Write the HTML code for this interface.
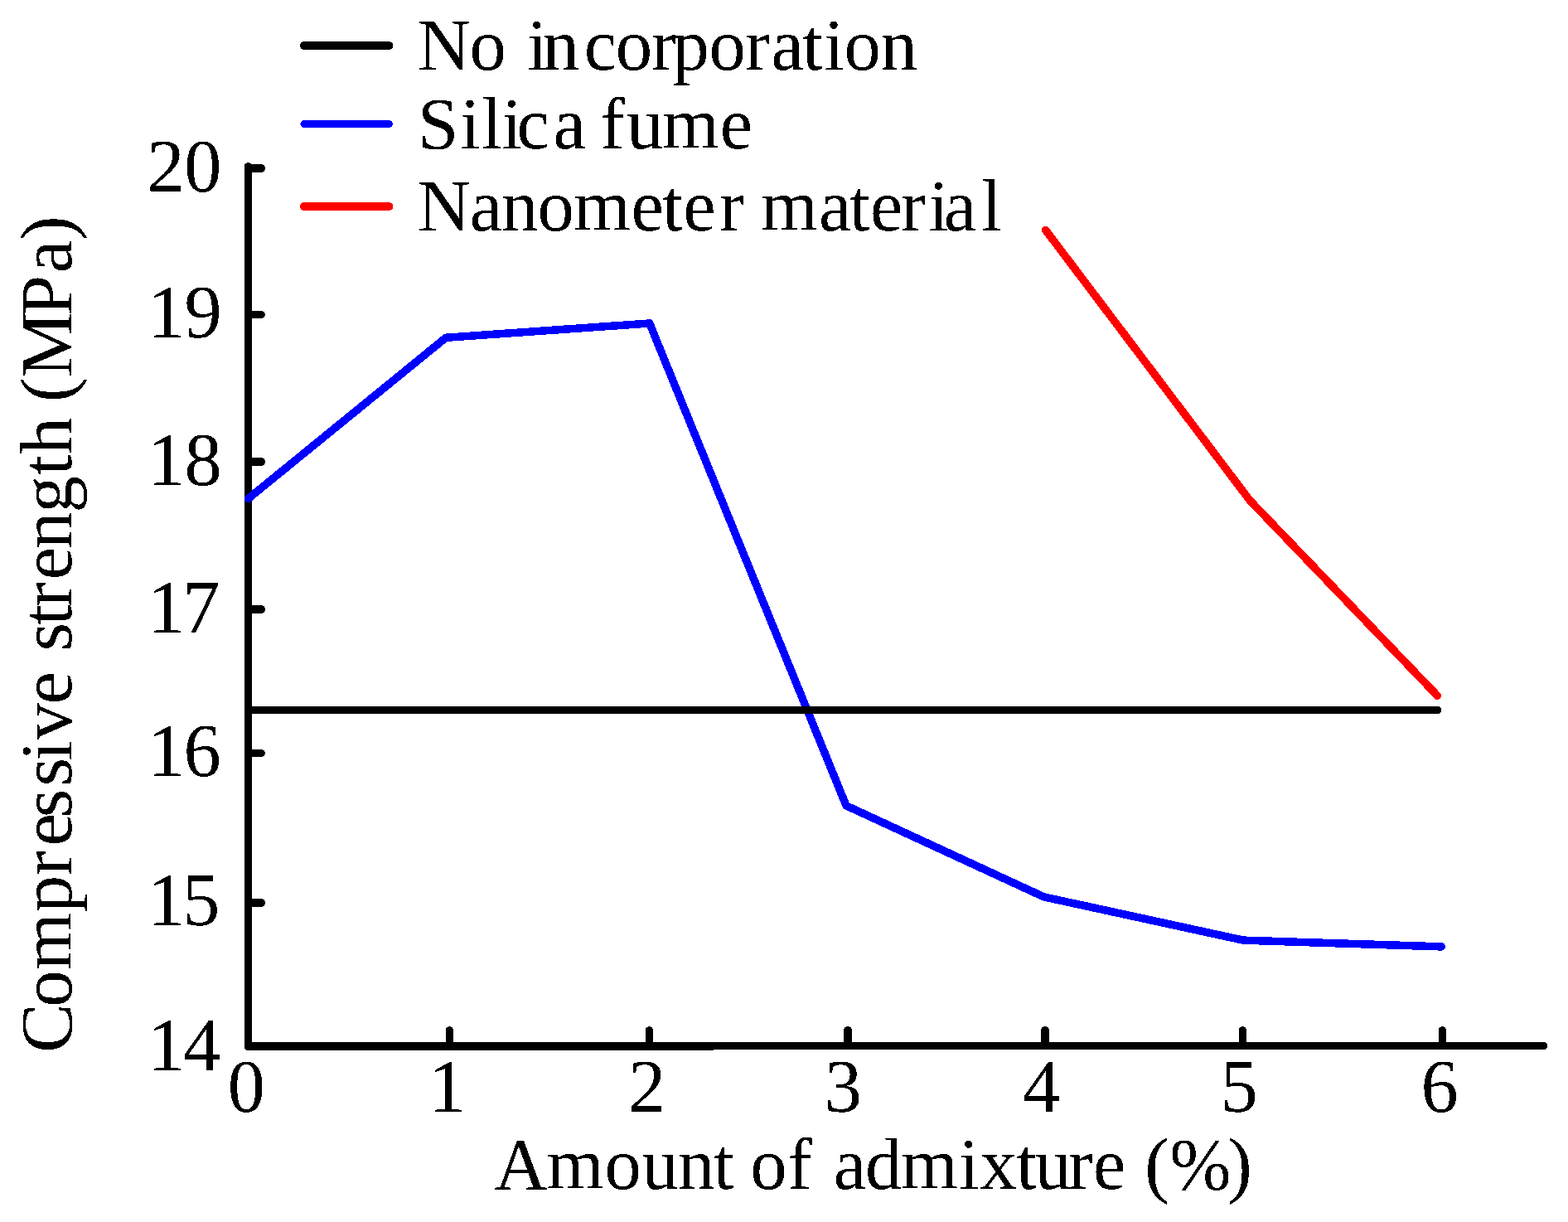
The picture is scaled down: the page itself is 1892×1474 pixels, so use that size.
<!DOCTYPE html>
<html lang="en">
<head>
<meta charset="utf-8">
<title>Compressive strength vs. amount of admixture</title>
<style>
html,body{margin:0;padding:0;background:#fff;}
body{width:1892px;height:1474px;overflow:hidden;}
svg{display:block;}
text{font-family:"Liberation Serif","DejaVu Serif",serif;font-size:88.8px;fill:#000;white-space:pre;}
text.tk{font-size:90.4px;}
</style>
</head>
<body>
<svg width="1892" height="1474" viewBox="0 0 1892 1474">
<defs>
<filter id="crisp" x="0" y="0" width="100%" height="100%" filterUnits="userSpaceOnUse" primitiveUnits="userSpaceOnUse" color-interpolation-filters="sRGB">
<feComponentTransfer><feFuncA type="discrete" tableValues="0 1"/></feComponentTransfer>
</filter>
</defs>
<rect width="1892" height="1474" fill="#fff"/>

<g fill="none" stroke-linecap="round" stroke-linejoin="round" shape-rendering="crispEdges">
<!-- axes -->
<line x1="299.5" y1="200.5" x2="299.5" y2="1262" stroke="#000" stroke-width="9"/>
<line x1="299.5" y1="1262" x2="859" y2="1262" stroke="#000" stroke-width="10"/>
<line x1="859" y1="1261.5" x2="1862.9" y2="1261.5" stroke="#000" stroke-width="9"/>
<!-- y ticks -->
<line x1="302" y1="203" x2="315.0" y2="203" stroke="#000" stroke-width="10"/>
<line x1="302" y1="379.5" x2="315.5" y2="379.5" stroke="#000" stroke-width="9"/>
<line x1="302" y1="557" x2="315.0" y2="557" stroke="#000" stroke-width="10"/>
<line x1="302" y1="735" x2="315.0" y2="735" stroke="#000" stroke-width="10"/>
<line x1="302" y1="908.5" x2="315.5" y2="908.5" stroke="#000" stroke-width="9"/>
<line x1="302" y1="1089" x2="315.0" y2="1089" stroke="#000" stroke-width="10"/>
<!-- x ticks -->
<line x1="542.5" y1="1259" x2="542.5" y2="1242.5" stroke="#000" stroke-width="9"/>
<line x1="783.5" y1="1259" x2="783.5" y2="1242.5" stroke="#000" stroke-width="9"/>
<line x1="1023" y1="1259" x2="1023" y2="1243.0" stroke="#000" stroke-width="10"/>
<line x1="1261" y1="1259" x2="1261" y2="1243.0" stroke="#000" stroke-width="10"/>
<line x1="1499.5" y1="1259" x2="1499.5" y2="1242.5" stroke="#000" stroke-width="9"/>
<line x1="1740.5" y1="1259" x2="1740.5" y2="1242.5" stroke="#000" stroke-width="9"/>
<!-- series -->
<polyline points="299.5,601.5 538,407.3 783.8,390 1021,971.8 1259.7,1081.9 1500.2,1134.15 1739.3,1141.9" stroke="#00f" stroke-width="9.5"/>
<polyline points="1261.7,277.6 1508,603.5 1734.4,839.2" stroke="#f00" stroke-width="9.5"/>
<polyline points="299.5,856.5 1734.7,856.5" stroke="#000" stroke-width="9"/>
<!-- legend swatches -->
<line x1="367" y1="55" x2="469.3" y2="55" stroke="#000" stroke-width="10"/>
<line x1="367" y1="149.5" x2="469.3" y2="149.5" stroke="#00f" stroke-width="9"/>
<line x1="367" y1="249" x2="469.3" y2="249" stroke="#f00" stroke-width="10"/>
</g>
<g filter="url(#crisp)">
<!-- legend labels -->
<text y="84.1" x="503.8 566.4 610.8 636.1 654.4 704.8 742.8 786.2 811.4 855.5 899.3 930.5 968.2 994.3 1018.5 1062.5">No incorporation</text>
<text y="179.1" x="504.1 555.3 581.2 605.4 623.6 667.5 706.9 724.0 756.0 798.8 868.7">Silica fume</text>
<text y="278.1" x="503.8 566.7 605.1 648.6 692.0 761.4 799.3 824.3 868.3 897.9 917.7 987.9 1025.1 1050.1 1087.3 1120.6 1138.8 1184.0">Nanometer material</text>
<!-- y tick labels -->
<text class="tk" y="230.9" x="177.6 222.2">20</text>
<text class="tk" y="407.0" x="178.0 222.4">19</text>
<text class="tk" y="585.0" x="178.0 222.4">18</text>
<text class="tk" y="763.1" x="178.0 220.3">17</text>
<text class="tk" y="935.9" x="178.0 221.4">16</text>
<text class="tk" y="1115.8" x="178.0 220.3">15</text>
<text class="tk" y="1291.4" x="178.0 221.1">14</text>
<!-- x tick labels -->
<text class="tk" y="1340.9" x="274.8">0</text>
<text class="tk" y="1340.9" x="517.1">1</text>
<text class="tk" y="1340.9" x="758.2">2</text>
<text class="tk" y="1340.9" x="994.8">3</text>
<text class="tk" y="1340.9" x="1234.2">4</text>
<text class="tk" y="1340.9" x="1472.7">5</text>
<text class="tk" y="1340.9" x="1714.6">6</text>
<!-- axis titles -->
<text y="1434.4" x="596.5 659.6 729.5 774.5 817.9 861.1 885.8 905.2 949.9 979.4 1005.8 1044.1 1086.9 1157.1 1182.6 1226.2 1248.8 1288.7 1319.1 1358.5 1381.3 1411.6 1481.2">Amount of admixture (%)</text>
<text transform="rotate(-90)" y="86.0" x="-1269.7 -1214.8 -1170.1 -1100.2 -1056.2 -1020.5 -986.2 -948.6 -917.7 -892.6 -849.4 -810.0 -785.5 -754.0 -732.0 -699.3 -661.8 -618.5 -573.2 -547.8 -503.4 -485.0 -455.3 -381.3 -329.3 -289.9">Compressive strength (MPa)</text>
</g>
</svg>
</body>
</html>
